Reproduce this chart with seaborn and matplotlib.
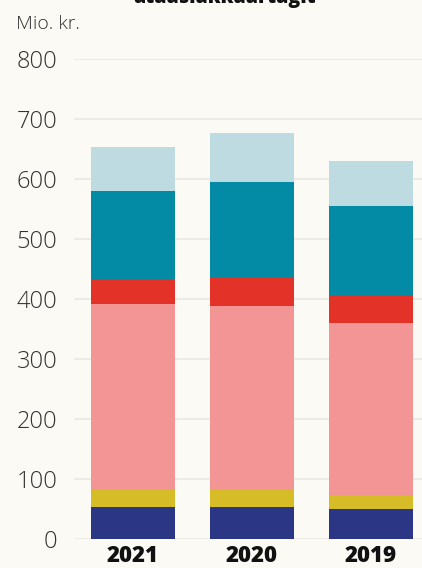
import numpy as np
import pandas as pd
import matplotlib
matplotlib.use("Agg")
import matplotlib.pyplot as plt
import seaborn as sns

# data (Mio. kr.), segments from bottom to top
years = ["2021", "2020", "2019"]
navy = [53, 53, 50]
yellow = [29, 29, 23]
pink = [309, 306, 287]
red = [42, 48, 46]
teal = [147, 159, 150]
light = [74, 82, 75]

segments = [navy, yellow, pink, red, teal, light]
colors = ["#2B3684", "#D6BC27", "#F39594", "#E33329", "#038BA6", "#BEDBE2"]
yticks = [0, 100, 200, 300, 400, 500, 600, 700, 800]

bg = "#FBFAF5"
sns.set_theme(style="white")
plt.rcParams["font.family"] = ["Open Sans", "DejaVu Sans"]

fig = plt.figure(figsize=(4.22, 5.68), dpi=100, facecolor=bg)
ax = fig.add_axes([0.175, 0.0516, 0.825, 0.844], facecolor=bg)

# cumulative heights, draw tallest first so the lower ones sit on top
cum = np.cumsum(np.array(segments), axis=0)
for i in range(len(segments) - 1, -1, -1):
    df = pd.DataFrame({"year": years, "value": cum[i]})
    sns.barplot(data=df, x="year", y="value", color=colors[i], width=0.706,
                saturation=1, linewidth=0, edgecolor="none", ax=ax, zorder=3)

ax.set_ylim(0, 800)
ax.set_xlim(-0.496, 2.43)
ax.set_yticks(yticks)
ax.set_yticklabels([str(t) for t in yticks])
for y in yticks:
    ax.axhline(y, color="#E9E7E1", lw=1.1, zorder=1)

for s in ax.spines.values():
    s.set_visible(False)
ax.tick_params(axis="y", length=0, pad=12, labelsize=17, labelcolor="#333333")
ax.tick_params(axis="x", length=0, pad=4, labelsize=16)
for lab in ax.get_yticklabels():
    lab.set_fontweight("light")
for lab in ax.get_xticklabels():
    lab.set_fontweight("heavy")
    lab.set_color("#111111")
ax.set_xlabel("")
ax.set_ylabel("")

fig.text(0.038, 0.958, "Mio. kr.", fontsize=14, color="#333333",
         fontweight="light", va="center", ha="left")
fig.text(0.533, 1.003, "ataasiakkaartagit", fontsize=14, fontweight="heavy",
         color="#111111", ha="center", va="center")

fig.savefig("out.png", dpi=100, facecolor=bg)
